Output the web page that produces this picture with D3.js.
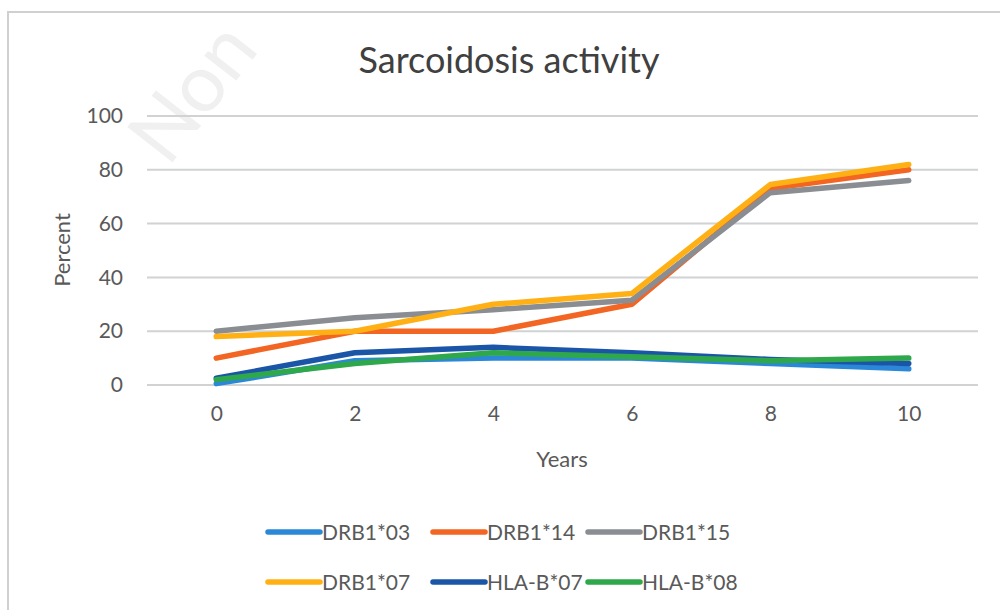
<!DOCTYPE html>
<html>
<head>
<meta charset="utf-8">
<script src="https://cdn.jsdelivr.net/npm/d3@7"></script>
<style>
  html, body { margin: 0; padding: 0; background: #fff; }
  svg { display: block; }
  text { font-family: Lato, "Open Sans", sans-serif; }
</style>
</head>
<body>
<svg id="chart" width="1000" height="610"></svg>
<script>
const years = ["0", "2", "4", "6", "8", "10"];
const yTicks = [0, 20, 40, 60, 80, 100];
const seriesNames = ["DRB1*03", "DRB1*14", "DRB1*15", "DRB1*07", "HLA-B*07", "HLA-B*08"];
const seriesColors = ["#2B88D8", "#F26522", "#8A8D91", "#FFB014", "#1A55A8", "#2EA84A"];
const drb103 = [0.5, 9, 10, 10, 8, 6];
const drb114 = [10, 20, 20, 30, 73, 80];
const drb115 = [20, 25, 28, 31.5, 71.5, 76];
const drb107 = [18, 20, 30, 34, 74.5, 82];
const hlab07 = [2.5, 12, 14, 12, 9.5, 8];
const hlab08 = [2, 8, 12, 10.5, 9, 10];
const seriesValues = [drb103, drb114, drb115, drb107, hlab07, hlab08];
// draw order (back to front)
const drawOrder = [0, 4, 5, 1, 2, 3];

const svg = d3.select("#chart");

// chart border
svg.append("rect").attr("x", 8).attr("y", 12).attr("width", 1010).attr("height", 620)
  .attr("fill", "#fff").attr("stroke", "#d0d0d0").attr("stroke-width", 2);

// watermark
svg.append("text").attr("transform", "translate(168,168) rotate(-52)")
  .attr("font-size", 80).attr("fill", "#f0f0f0").text("Non");

const x = d3.scalePoint().domain(years).range([147, 978]).padding(0.5);
const y = d3.scaleLinear().domain([0, 100]).range([385, 116]);

// gridlines
svg.append("g").selectAll("line").data(yTicks).join("line")
  .attr("x1", 147).attr("x2", 978)
  .attr("y1", d => y(d)).attr("y2", d => y(d))
  .attr("stroke", "#d0d2d4").attr("stroke-width", 2);

// y axis labels
const yAxis = d3.axisLeft(y).tickValues(yTicks).tickSize(0).tickPadding(0);
const gy = svg.append("g").attr("transform", "translate(123,0)").call(yAxis);
gy.select(".domain").remove();
gy.selectAll("text").attr("font-size", 21).attr("fill", "#595959")
  .attr("font-family", "Lato, sans-serif");

// x axis labels
const xAxis = d3.axisBottom(x).tickSize(0).tickPadding(0);
const gx = svg.append("g").attr("transform", "translate(0,406)").call(xAxis);
gx.select(".domain").remove();
gx.selectAll("text").attr("font-size", 21).attr("fill", "#595959")
  .attr("font-family", "Lato, sans-serif");

// lines
const line = d3.line().x((d, i) => x(years[i])).y(d => y(d));
svg.append("g").selectAll("path").data(drawOrder).join("path")
  .attr("d", i => line(seriesValues[i]))
  .attr("fill", "none")
  .attr("stroke", i => seriesColors[i])
  .attr("stroke-width", 5.5)
  .attr("stroke-linejoin", "round")
  .attr("stroke-linecap", "round");

// title
svg.append("text").attr("x", 509).attr("y", 73).attr("text-anchor", "middle")
  .attr("font-size", 36).attr("fill", "#404040").text("Sarcoidosis activity");

// axis titles
svg.append("text").attr("x", 562).attr("y", 467).attr("text-anchor", "middle")
  .attr("font-size", 22).attr("fill", "#595959").text("Years");
svg.append("text").attr("transform", "translate(70,250) rotate(-90)")
  .attr("text-anchor", "middle").attr("font-size", 22).attr("fill", "#595959").text("Percent");

// legend
const legX = [268, 433, 588];
const legY = [532, 582];
const leg = svg.append("g").selectAll("g").data(seriesNames).join("g")
  .attr("transform", (d, i) => `translate(${legX[i % 3]},${legY[Math.floor(i / 3)]})`);
leg.append("line").attr("x1", 0).attr("x2", 52).attr("y1", 0).attr("y2", 0)
  .attr("stroke", (d, i) => seriesColors[i]).attr("stroke-width", 5.5)
  .attr("stroke-linecap", "round");
leg.append("text").attr("x", 54).attr("y", 7.5).attr("font-size", 21)
  .attr("fill", "#595959").text(d => d);
</script>
</body>
</html>
